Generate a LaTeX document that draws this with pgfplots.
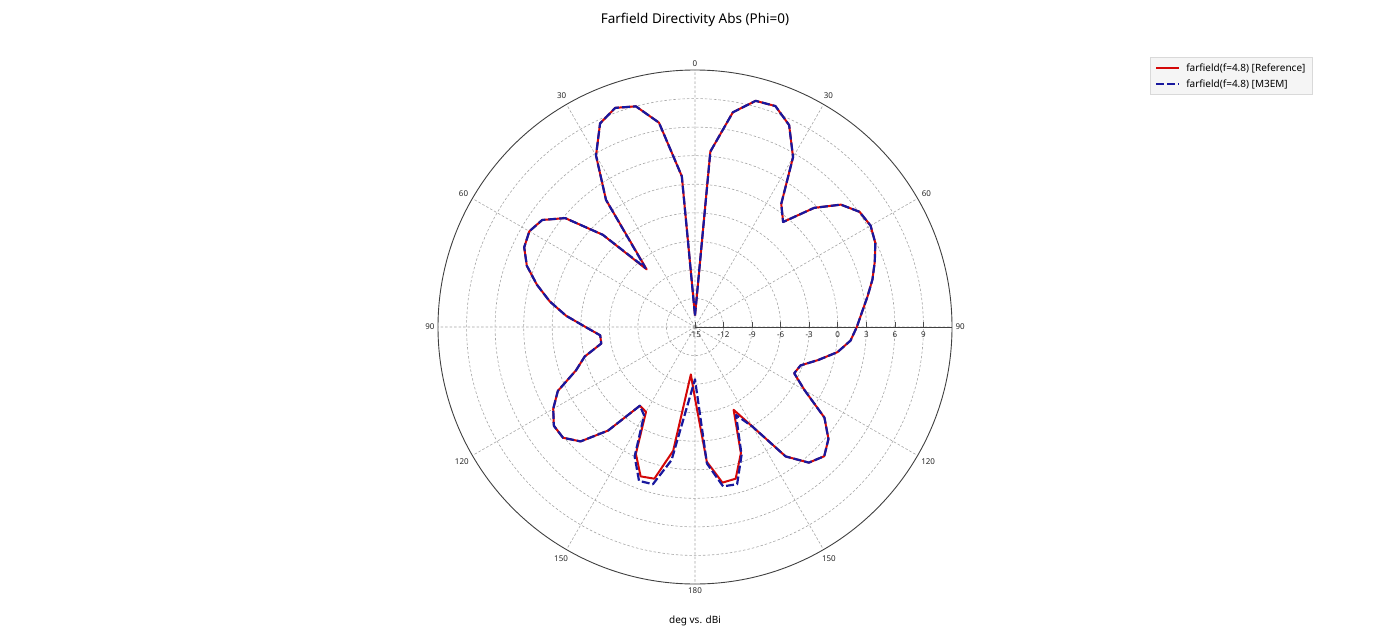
\documentclass[border=0pt]{standalone}
\usepackage{fontspec}
\setmainfont{Noto Sans}
\usepackage{pgfplots}
\pgfplotsset{compat=1.18}
\usepgfplotslibrary{polar}
\usepackage{pgfplotstable}

\definecolor{refred}{RGB}{212,8,8}
\definecolor{emblue}{RGB}{24,24,158}
\definecolor{gridgray}{RGB}{165,165,165}

% theta measured clockwise from the top (deg), directivity in dBi
\pgfplotstableread{
theta dB
0 -13.8
5 3.5
10 7.9
15 9.6
20 9.7
25 8.4
30 5.6
35 0.8
40 -0.6
45 2.7
50 5.0
55 6.1
60 6.3
65 5.9
70 5.1
75 4.3
80 3.4
85 2.6
90 2.0
95 1.4
100 0.2
105 -1.6
110 -3.2
115 -3.5
120 -1.7
125 1.6
130 3.3
135 4.2
140 3.6
145 1.6
150 -2.9
155 -5.4
160 -0.9
165 1.5
170 1.6
175 -0.8
180 -7.5
185 -10.0
190 -1.8
195 1.5
200 1.7
205 -0.3
210 -4.7
215 -4.9
220 -0.8
225 2.0
230 3.1
235 3.1
240 2.2
245 0.9
250 -1.7
255 -3.0
260 -5.0
265 -5.0
270 -3.5
275 -1.4
280 0.5
285 2.2
290 3.8
295 4.8
300 5.1
305 4.6
310 2.8
315 -1.3
320 -7.1
325 1.3
330 5.8
335 8.6
340 9.5
345 9.0
350 6.8
355 0.9
360 -13.8
}\refdata

\pgfplotstableread{
theta dB
0 -13.8
5 3.5
10 7.9
15 9.6
20 9.7
25 8.4
30 5.6
35 0.8
40 -0.6
45 2.7
50 5.0
55 6.1
60 6.3
65 5.9
70 5.1
75 4.3
80 3.4
85 2.6
90 2.0
95 1.4
100 0.2
105 -1.6
110 -3.2
115 -3.5
120 -1.7
125 1.6
130 3.3
135 4.2
140 3.6
145 1.6
150 -2.9
155 -4.8
160 -0.7
165 2.1
170 2.0
175 -0.6
180 -9.5
185 -7.1
190 -0.8
195 2.1
200 2.2
205 0.0
210 -4.3
215 -4.9
220 -0.8
225 2.0
230 3.1
235 3.1
240 2.2
245 0.9
250 -1.7
255 -3.0
260 -5.0
265 -5.0
270 -3.5
275 -1.4
280 0.5
285 2.2
290 3.8
295 4.8
300 5.1
305 4.6
310 2.8
315 -1.3
320 -6.9
325 1.3
330 5.8
335 8.6
340 9.5
345 9.0
350 6.8
355 0.9
360 -13.8
}\emdata

\begin{document}
\begin{tikzpicture}
\path[use as bounding box] (0,0) rectangle (1396pt,640pt);
\node[font=\fontsize{13.5}{16}\selectfont] at (695pt,620pt) {Farfield Directivity Abs (Phi=0)};
\begin{polaraxis}[
  at={(695pt,313pt)}, anchor=center,
  scale only axis, width=514pt, height=514pt,
  ymin=0, ymax=27,
  ytick={0,3,...,24},
  yticklabels={-15,-12,-9,-6,-3,0,3,6,9},
  xtick={0,30,...,330},
  xticklabels={90,60,30,0,30,60,90,120,150,180,150,120},
  ticklabel style={font=\fontsize{8}{9}\selectfont, text=black!85},
  yticklabel style={anchor=north, yshift=-1pt},
  xtick style={draw=none},
  ytick style={black!70, line width=0.6pt},
  major tick length=5pt,
  grid=major,
  major grid style={gridgray, dash pattern=on 2.5pt off 2pt, line width=0.6pt},
  axis line style={black!75, line width=0.9pt},
  legend style={at={(1.385,1.025)}, anchor=north west,
    font=\fontsize{10}{12}\selectfont, fill=black!4, draw=black!15,
    inner xsep=5pt, inner ysep=4pt, row sep=3pt, column sep=4pt},
  legend cell align=left,
  legend image code/.code={\draw[#1] (0pt,0pt) -- (23pt,0pt);},
]
\addplot[refred, line width=2pt, no markers, line join=round]
  table[x expr=90-\thisrow{theta}, y expr=\thisrow{dB}+15] {\refdata};
\addlegendentry{farfield(f=4.8) [Reference]}
\addplot[emblue, line width=2.2pt, dash pattern=on 8pt off 3pt, no markers, line join=round]
  table[x expr=90-\thisrow{theta}, y expr=\thisrow{dB}+15] {\emdata};
\addlegendentry{farfield(f=4.8) [M3EM]}
\end{polaraxis}
\node[font=\fontsize{10}{12}\selectfont] at (695pt,19pt) {deg vs. dBi};
\end{tikzpicture}
\end{document}
